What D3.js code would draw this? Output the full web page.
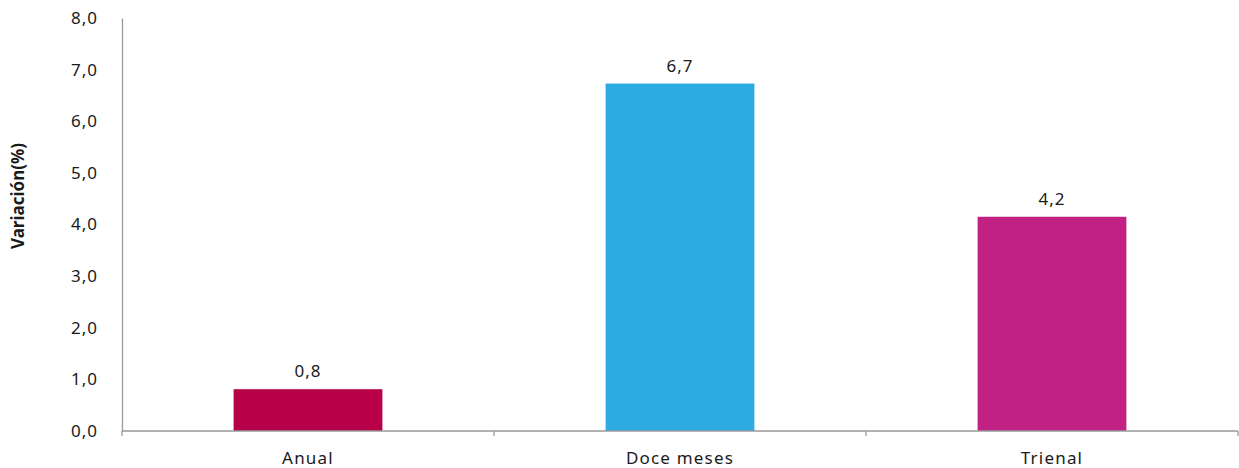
<!DOCTYPE html>
<html>
<head>
<meta charset="utf-8">
<script src="https://cdn.jsdelivr.net/npm/d3@7"></script>
<style>
  body { margin: 0; background: #fff; }
  text { font-family: "Noto Sans", "Open Sans", sans-serif; fill: #1a1a1a; }
</style>
</head>
<body>
<script>
"use strict";

// datos
const categorias = ["Anual", "Doce meses", "Trienal"];
const valores = [0.81, 6.73, 4.15];
const etiquetas = ["0,8", "6,7", "4,2"];
const colores = ["#B8004A", "#2CAAE2", "#C02183"];
const yTicks = [0, 1, 2, 3, 4, 5, 6, 7, 8];

const w = 1239;
const h = 468;
const margin = {top: 18, right: 1, bottom: 37, left: 122};

const svg = d3.select("body")
              .append("svg")
              .attr("width", w)
              .attr("height", h);

const xScale = d3.scaleBand()
                 .domain(categorias)
                 .range([margin.left, w - margin.right])
                 .paddingInner(0.6)
                 .paddingOuter(0.3);

const yScale = d3.scaleLinear()
                 .domain([0, 8])
                 .range([h - margin.bottom, margin.top]);

const fmt = d => d.toFixed(1).replace(".", ",");

// eje y
const yAxis = d3.axisLeft(yScale)
                .tickValues(yTicks)
                .tickFormat(fmt)
                .tickSize(0)
                .tickPadding(24);

svg.append("g")
   .attr("transform", "translate(" + margin.left + ",0)")
   .call(yAxis)
   .call(g => g.select(".domain").attr("stroke", "#999").attr("stroke-width", 1.3))
   .call(g => g.selectAll("text")
               .style("font-size", "17px")
               .style("letter-spacing", "1px")
               .attr("fill", "#1a1a1a"));

// barras
svg.selectAll("rect")
   .data(valores)
   .enter()
   .append("rect")
   .attr("x", (d, i) => xScale(categorias[i]))
   .attr("y", d => yScale(d))
   .attr("width", xScale.bandwidth())
   .attr("height", d => yScale(0) - yScale(d))
   .attr("fill", (d, i) => colores[i]);

// etiquetas de valor
svg.selectAll(".lbl")
   .data(valores)
   .enter()
   .append("text")
   .attr("class", "lbl")
   .attr("x", (d, i) => xScale(categorias[i]) + xScale.bandwidth() / 2)
   .attr("y", d => yScale(d) - 12)
   .attr("text-anchor", "middle")
   .style("font-size", "17px")
   .style("letter-spacing", "1px")
   .text((d, i) => etiquetas[i]);

// eje x con marcas entre categorias
const x0 = yScale(0);
const bordes = d3.range(categorias.length + 1).map(i => margin.left + i * (w - margin.left - margin.right) / categorias.length);

svg.append("line")
   .attr("x1", margin.left).attr("x2", w - margin.right)
   .attr("y1", x0).attr("y2", x0)
   .attr("stroke", "#999").attr("stroke-width", 1.3);

svg.selectAll(".tk")
   .data(bordes)
   .enter()
   .append("line")
   .attr("class", "tk")
   .attr("x1", d => d).attr("x2", d => d)
   .attr("y1", x0).attr("y2", x0 + 5)
   .attr("stroke", "#999").attr("stroke-width", 1.3);

svg.selectAll(".cat")
   .data(categorias)
   .enter()
   .append("text")
   .attr("class", "cat")
   .attr("x", d => xScale(d) + xScale.bandwidth() / 2)
   .attr("y", x0 + 33)
   .attr("text-anchor", "middle")
   .style("font-size", "17px")
   .style("letter-spacing", "1.2px")
   .text(d => d);

// titulo eje y
svg.append("text")
   .attr("transform", "translate(24,196) rotate(-90)")
   .attr("text-anchor", "middle")
   .style("font-size", "17px")
   .style("font-weight", "bold")
   .text("Variación(%)");
</script>
</body>
</html>
